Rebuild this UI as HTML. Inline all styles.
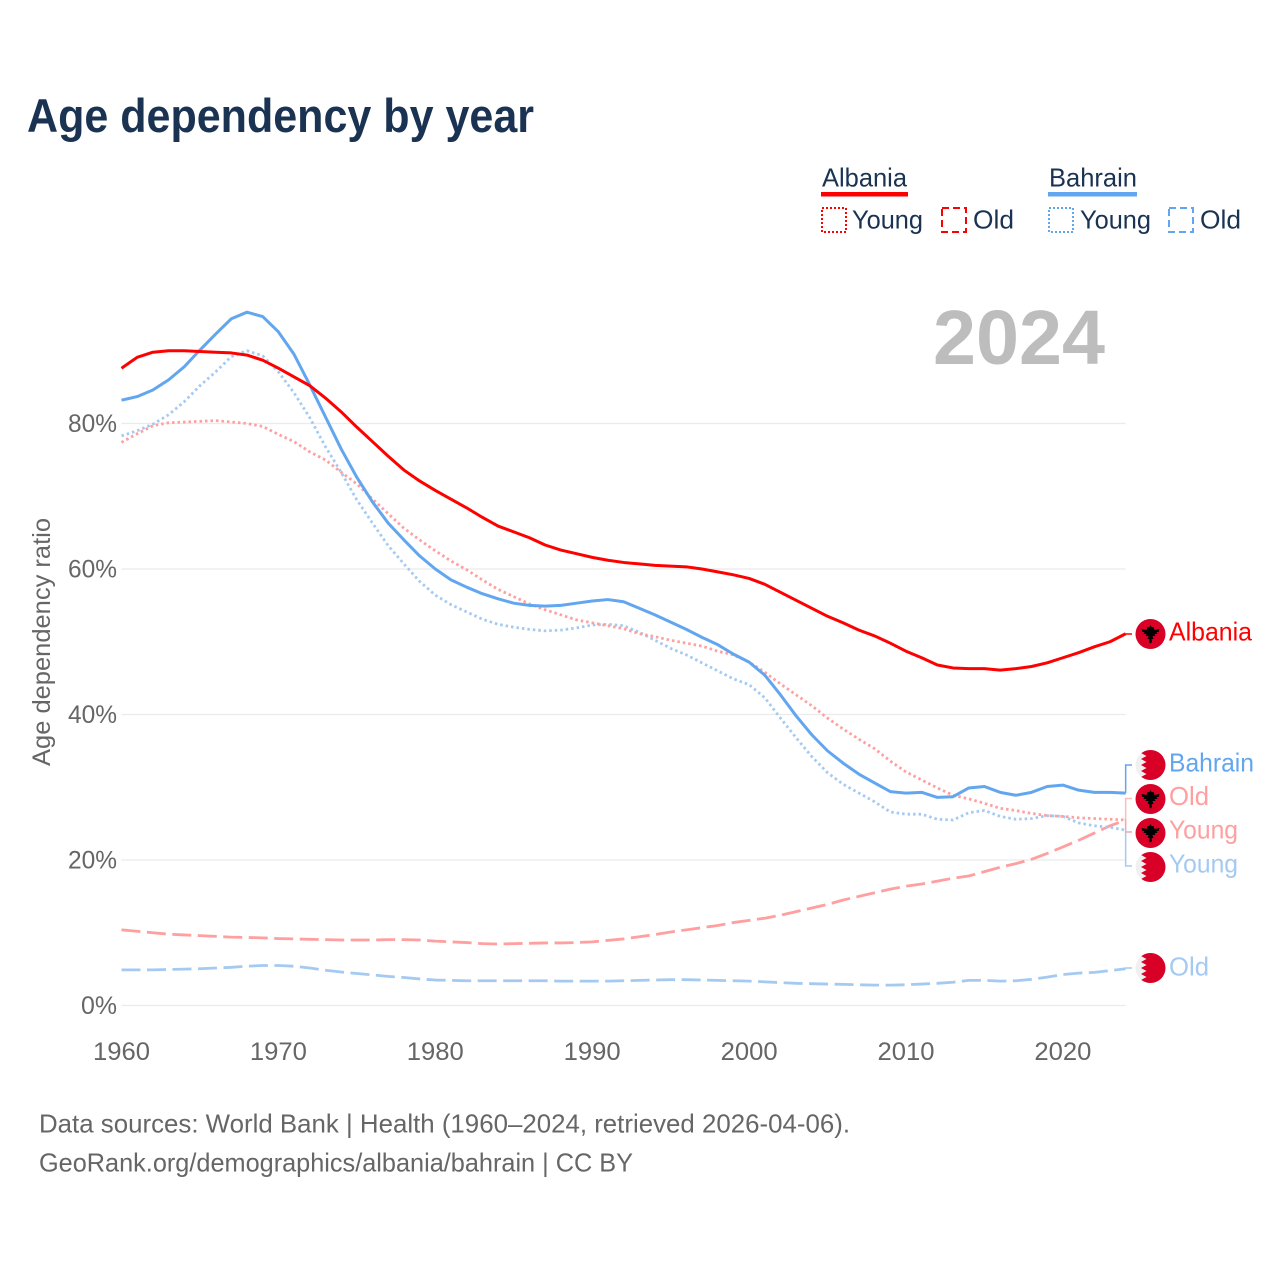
<!DOCTYPE html>
<html lang="en">
<head>
<meta charset="utf-8">
<title>Age dependency by year</title>
<style>
html,body{margin:0;padding:0;background:#fff;width:1280px;height:1280px;overflow:hidden}
svg{display:block;font-family:"Liberation Sans",sans-serif}
</style>
</head>
<body>
<svg id="chart" xmlns="http://www.w3.org/2000/svg" width="1280" height="1280" viewBox="0 0 1280 1280">
<defs>
<clipPath id="flag-clip"><circle cx="0" cy="0" r="15"/></clipPath>
<g id="flag-albania">
<circle r="15" fill="#d80027"/>
<path fill="#000" d="M-9,-5 L-4,-4 L-3,-7 L-1,-7 L0,-9 L1,-7 L3,-7 L4,-4 L9,-5 L8,-2 L6,-2 L7,0 L4,0 L5,2 L2,2 L3,5 L1,5 L1.5,8 L0,9.5 L-1.5,8 L-1,5 L-3,5 L-2,2 L-5,2 L-4,0 L-7,0 L-6,-2 L-8,-2 Z"/>
</g>
<g id="flag-bahrain" clip-path="url(#flag-clip)">
<circle r="15" fill="#f0f0f0"/>
<path fill="#d80027" d="M-4,-15 L-9.5,-12 L-4,-9 L-9.5,-6 L-4,-3 L-9.5,0 L-4,3 L-9.5,6 L-4,9 L-9.5,12 L-4,15 L16,15 L16,-15 Z"/>
</g>
</defs>

<text x="27" y="132" font-size="47" font-weight="700" fill="#1a3353" textLength="507" lengthAdjust="spacingAndGlyphs">Age dependency by year</text>

<g font-size="26" fill="#1a3353">
<text x="822" y="186.5" textLength="85" lengthAdjust="spacingAndGlyphs">Albania</text>
<rect x="821" y="192" width="87" height="4.5" fill="#ff0000"/>
<rect x="822" y="208" width="24" height="24" fill="none" stroke="#ff0000" stroke-width="2" stroke-dasharray="2 2"/>
<text x="852" y="228.5" textLength="71" lengthAdjust="spacingAndGlyphs">Young</text>
<rect x="942" y="208" width="24" height="24" fill="none" stroke="#ff0000" stroke-width="2" stroke-dasharray="7 4"/>
<text x="973" y="228.5" textLength="41" lengthAdjust="spacingAndGlyphs">Old</text>
<text x="1049" y="186.5" textLength="88" lengthAdjust="spacingAndGlyphs">Bahrain</text>
<rect x="1048" y="192" width="89" height="4.5" fill="#62a6f0"/>
<rect x="1049" y="208" width="24" height="24" fill="none" stroke="#62a6f0" stroke-width="2" stroke-dasharray="2 2"/>
<text x="1080" y="228.5" textLength="71" lengthAdjust="spacingAndGlyphs">Young</text>
<rect x="1169" y="208" width="24" height="24" fill="none" stroke="#62a6f0" stroke-width="2" stroke-dasharray="7 4"/>
<text x="1200" y="228.5" textLength="41" lengthAdjust="spacingAndGlyphs">Old</text>
</g>

<text x="933" y="364" font-size="77" font-weight="700" fill="#bdbdbd" textLength="172" lengthAdjust="spacingAndGlyphs">2024</text>

<text transform="translate(50,642) rotate(-90)" text-anchor="middle" font-size="25" fill="#666" textLength="248" lengthAdjust="spacingAndGlyphs">Age dependency ratio</text>

<g id="grid"></g>
<g id="y-labels"></g>
<g id="x-labels"></g>
<g id="connectors"></g>
<g id="series"></g>

<g font-size="26">
<use href="#flag-albania" x="1150.5" y="634"/>
<text x="1169" y="640.5" fill="#ff0000" textLength="83" lengthAdjust="spacingAndGlyphs">Albania</text>
<use href="#flag-bahrain" transform="translate(1150.5,765)"/>
<text x="1169" y="771.5" fill="#62a6f0" textLength="85" lengthAdjust="spacingAndGlyphs">Bahrain</text>
<use href="#flag-albania" x="1150.5" y="799"/>
<text x="1169" y="805" fill="#ff9f9f" textLength="40" lengthAdjust="spacingAndGlyphs">Old</text>
<use href="#flag-albania" x="1150.5" y="833"/>
<text x="1169" y="838.5" fill="#ff9f9f" textLength="69" lengthAdjust="spacingAndGlyphs">Young</text>
<use href="#flag-bahrain" transform="translate(1150.5,867)"/>
<text x="1169" y="872.5" fill="#a4caf2" textLength="69" lengthAdjust="spacingAndGlyphs">Young</text>
<use href="#flag-bahrain" transform="translate(1150.5,968)"/>
<text x="1169" y="975.5" fill="#a4caf2" textLength="40" lengthAdjust="spacingAndGlyphs">Old</text>
</g>

<g font-size="26" fill="#666">
<text x="39" y="1132.5" textLength="811" lengthAdjust="spacingAndGlyphs">Data sources: World Bank | Health (1960–2024, retrieved 2026-04-06).</text>
<text x="39" y="1171.5" textLength="594" lengthAdjust="spacingAndGlyphs">GeoRank.org/demographics/albania/bahrain | CC BY</text>
</g>
</svg>
<script>
var firstYear = 1960;
var yTicks = [0, 20, 40, 60, 80];
var xTicks = [1960, 1970, 1980, 1990, 2000, 2010, 2020];
var albaniaTotal = [87.6,89.1,89.8,90.0,90.0,89.9,89.8,89.7,89.4,88.7,87.6,86.4,85.2,83.5,81.6,79.5,77.5,75.5,73.6,72.1,70.8,69.6,68.4,67.1,65.9,65.1,64.3,63.3,62.6,62.1,61.6,61.2,60.9,60.7,60.5,60.4,60.3,60.0,59.6,59.2,58.7,57.9,56.8,55.7,54.6,53.5,52.6,51.6,50.8,49.8,48.7,47.8,46.8,46.4,46.3,46.3,46.1,46.3,46.6,47.1,47.8,48.5,49.3,50.0,51.1];
var bahrainTotal = [83.2,83.7,84.6,86.0,87.8,90.1,92.3,94.4,95.3,94.7,92.6,89.5,85.3,80.9,76.5,72.6,69.2,66.3,64.0,61.8,60.0,58.5,57.5,56.6,55.9,55.3,55.0,54.9,55.0,55.3,55.6,55.8,55.5,54.6,53.7,52.7,51.7,50.6,49.6,48.3,47.2,45.4,42.7,39.8,37.2,35.0,33.3,31.8,30.6,29.4,29.2,29.3,28.6,28.7,29.9,30.1,29.3,28.9,29.3,30.1,30.3,29.6,29.3,29.3,29.2];
var albaniaYoung = [77.4,78.6,79.7,80.1,80.2,80.3,80.4,80.2,80.0,79.6,78.5,77.5,76.1,75.0,73.3,71.7,69.6,67.6,65.6,64.0,62.5,61.1,59.9,58.5,57.2,56.2,55.2,54.4,53.7,53.0,52.6,52.2,51.8,51.1,50.7,50.2,49.8,49.4,48.7,48.2,47.2,45.8,44.2,42.7,41.2,39.5,38.0,36.6,35.3,33.6,32.1,31.0,29.9,28.9,28.4,27.8,27.1,26.8,26.4,26.1,26.0,25.8,25.7,25.6,25.5];
var bahrainYoung = [78.3,79.0,79.9,81.2,83.0,85.2,87.1,89.2,90.0,89.3,87.1,84.2,80.8,76.8,73.3,69.5,66.3,63.2,60.7,58.3,56.4,55.1,54.1,53.1,52.4,52.0,51.7,51.5,51.6,51.9,52.3,52.4,52.2,51.3,50.2,49.1,48.2,47.1,46.0,44.9,44.1,42.3,39.5,36.8,34.2,32.0,30.4,29.2,28.0,26.6,26.3,26.3,25.6,25.5,26.5,26.8,26.0,25.6,25.7,26.1,26.0,25.1,24.7,24.5,24.1];
var albaniaOld = [10.4,10.2,10.0,9.8,9.7,9.6,9.5,9.4,9.35,9.3,9.2,9.15,9.1,9.05,9.0,9.0,9.0,9.05,9.05,9.0,8.85,8.75,8.65,8.5,8.45,8.5,8.55,8.6,8.6,8.65,8.75,8.95,9.15,9.45,9.75,10.1,10.4,10.7,11.0,11.4,11.7,12.0,12.4,12.9,13.4,13.9,14.5,15.0,15.5,16.0,16.4,16.7,17.1,17.5,17.8,18.4,19.0,19.5,20.1,20.9,21.8,22.7,23.7,24.7,25.5];
var bahrainOld = [4.9,4.9,4.9,4.95,5.0,5.05,5.15,5.25,5.4,5.5,5.5,5.4,5.15,4.85,4.6,4.4,4.2,4.0,3.85,3.65,3.5,3.45,3.4,3.4,3.4,3.4,3.4,3.4,3.35,3.35,3.35,3.35,3.4,3.45,3.5,3.55,3.55,3.5,3.45,3.4,3.35,3.25,3.15,3.05,3.0,2.95,2.9,2.85,2.8,2.8,2.85,2.95,3.05,3.2,3.45,3.45,3.35,3.4,3.6,3.9,4.25,4.45,4.55,4.8,5.05];

var SVGNS = 'http://www.w3.org/2000/svg';
function xScale(year) { return 121.5 + (year - 1960) * 15.69; }
function yScale(v) { return 1005.5 - v * 7.275; }
function linePath(values) {
  var d = '';
  for (var i = 0; i < values.length; i++) {
    d += (i ? 'L' : 'M') + xScale(firstYear + i).toFixed(2) + ',' + yScale(values[i]).toFixed(2);
  }
  return d;
}
function drawSeries(name, values, color, width, dash) {
  var p = document.createElementNS(SVGNS, 'path');
  
  
  p.setAttribute('d', linePath(values));
  p.setAttribute('fill', 'none');
  p.setAttribute('stroke', color);
  p.setAttribute('stroke-width', width);
  p.setAttribute('stroke-linejoin', 'round');
  if (dash) p.setAttribute('stroke-dasharray', dash);
  document.getElementById('series').appendChild(p);
}
function drawConnector(name, values, labelY, color) {
  var x0 = xScale(firstYear + values.length - 1);
  var y0 = yScale(values[values.length - 1]);
  var p = document.createElementNS(SVGNS, 'path');
  
  
  p.setAttribute('d', 'M' + x0 + ',' + y0 + 'L' + x0 + ',' + labelY + 'L1132,' + labelY);
  p.setAttribute('fill', 'none');
  p.setAttribute('stroke', color);
  p.setAttribute('stroke-width', 1.5);
  document.getElementById('connectors').appendChild(p);
}

yTicks.forEach(function (t) {
  var l = document.createElementNS(SVGNS, 'line');
  
  
  l.setAttribute('x1', xScale(1960));
  l.setAttribute('x2', xScale(2024));
  l.setAttribute('y1', yScale(t));
  l.setAttribute('y2', yScale(t));
  l.setAttribute('stroke', '#ebebeb');
  l.setAttribute('stroke-width', 1.3);
  document.getElementById('grid').appendChild(l);
  var tx = document.createElementNS(SVGNS, 'text');
  
  
  tx.setAttribute('x', 117);
  tx.setAttribute('y', yScale(t) + 8.5);
  tx.setAttribute('text-anchor', 'end');
  tx.setAttribute('font-size', 25);
  tx.setAttribute('fill', '#666');
  tx.setAttribute('textLength', t === 0 ? 36 : 49);
  tx.setAttribute('lengthAdjust', 'spacingAndGlyphs');
  tx.textContent = t + '%';
  document.getElementById('y-labels').appendChild(tx);
});

xTicks.forEach(function (t) {
  var tx = document.createElementNS(SVGNS, 'text');
  
  
  tx.setAttribute('x', xScale(t));
  tx.setAttribute('y', 1060);
  tx.setAttribute('text-anchor', 'middle');
  tx.setAttribute('font-size', 25);
  tx.setAttribute('fill', '#666');
  tx.setAttribute('textLength', 57);
  tx.setAttribute('lengthAdjust', 'spacingAndGlyphs');
  tx.textContent = t;
  document.getElementById('x-labels').appendChild(tx);
});

drawConnector('connector-albania', albaniaTotal, 634, '#ff0000');
drawConnector('connector-bahrain', bahrainTotal, 765, '#62a6f0');
drawConnector('connector-albania-old', albaniaOld, 798.5, '#ffbcbc');
drawConnector('connector-albania-young', albaniaYoung, 832, '#ff9f9f');
drawConnector('connector-bahrain-young', bahrainYoung, 866, '#a4caf2');
drawConnector('connector-bahrain-old', bahrainOld, 968, '#a4caf2');

drawSeries('line-bahrain-old', bahrainOld, '#a4caf2', 2.8, '19 6.5');
drawSeries('line-albania-old', albaniaOld, '#ff9f9f', 2.8, '19 6.5');
drawSeries('line-bahrain-young', bahrainYoung, '#a4caf2', 2.8, '2.5 3');
drawSeries('line-albania-young', albaniaYoung, '#ff9f9f', 2.8, '2.5 3');
drawSeries('line-bahrain-total', bahrainTotal, '#62a6f0', 3, null);
drawSeries('line-albania-total', albaniaTotal, '#ff0000', 3, null);
</script>
</body>
</html>
